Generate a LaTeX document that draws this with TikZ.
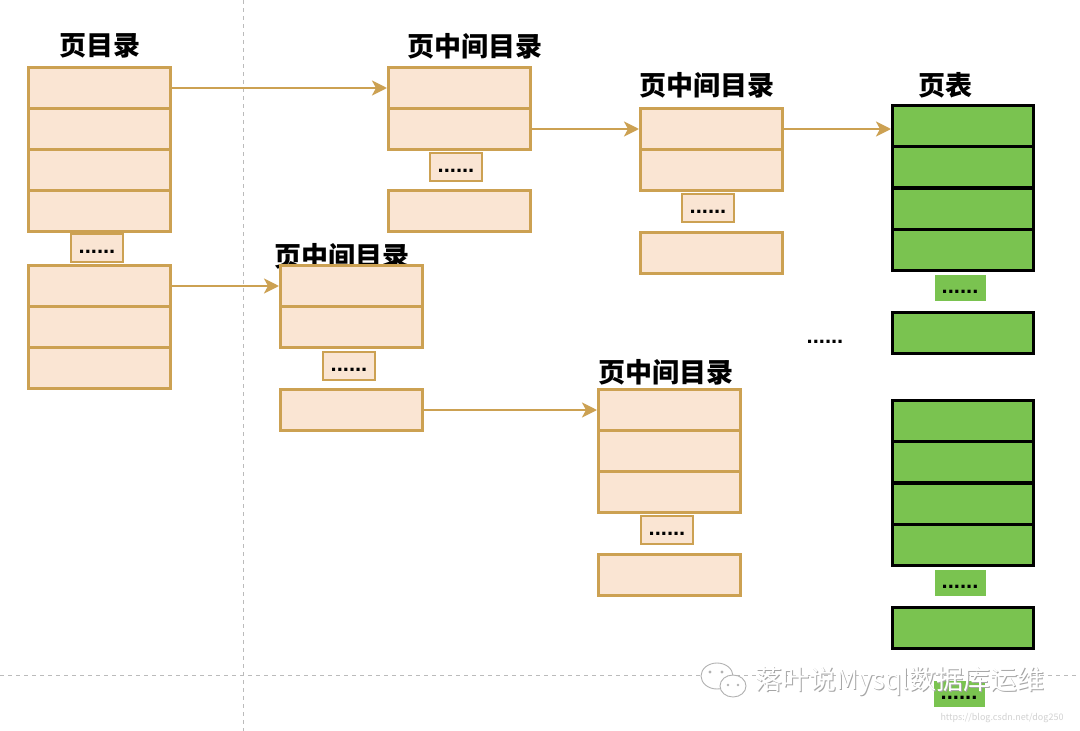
\documentclass[tikz,border=0pt]{standalone}
\usepackage{fontspec}
\setmainfont{Noto Sans CJK SC}
\newfontfamily\dotfont{Liberation Sans}
\usetikzlibrary{arrows.meta}
\definecolor{ostroke}{HTML}{CCA152}
\definecolor{ofill}{HTML}{FAE5D3}
\definecolor{gfill}{HTML}{7AC350}
\definecolor{dashc}{HTML}{BBBBBB}
\tikzset{
  orowbox/.style={draw=ostroke, fill=ofill, line width=3pt, minimum width=142pt, minimum height=41pt, anchor=north west, inner sep=0pt},
  growbox/.style={draw=black, fill=gfill, line width=3pt, minimum width=141pt, minimum height=41pt, anchor=north west, inner sep=0pt},
  dotsfont/.style={inner sep=0pt, text height=11pt, text depth=0pt, font=\dotfont\bfseries\fontsize{22}{22}\selectfont},
  odotsbox/.style={dotsfont, draw=ostroke, fill=ofill, line width=1.5pt, minimum width=52pt, minimum height=28pt},
  gdotsbox/.style={dotsfont, fill=gfill, minimum width=51pt, minimum height=26pt},
  ttlbox/.style={font=\fontsize{27}{27}\selectfont\bfseries, inner sep=0pt},
  linkline/.style={draw=ostroke, line width=2.5pt, -{Stealth[length=15pt,width=15pt,inset=4pt]}},
  sepline/.style={draw=dashc, line width=1pt, dash pattern=on 4pt off 4pt},
}
\begin{document}
\begin{tikzpicture}[x=1pt,y=-1pt]
\useasboundingbox (0,0) rectangle (1080,731);
\fill[white] (0,0) rectangle (1080,731);
% separators
\coordinate (vt) at (243,0); \coordinate (vb) at (243,731);
\coordinate (hl) at (0,675); \coordinate (hr) at (1080,675);
\draw[sepline] (vt) -- (vb);
\draw[sepline] (hl) -- (hr);

% page directory
\node[ttlbox] (tpd) at (100,46) {页目录};
\node[orowbox] (pd1) at (27,66) {};
\node[orowbox] (pd2) at (27,107) {};
\node[orowbox] (pd3) at (27,148) {};
\node[orowbox] (pd4) at (27,189) {};
\node[odotsbox] (pdd) at (97,248) {......};
\node[orowbox] (pd5) at (27,264) {};
\node[orowbox] (pd6) at (27,305) {};
\node[orowbox] (pd7) at (27,346) {};

% middle directory A
\node[ttlbox] (tma) at (475,46) {页中间目录};
\node[orowbox] (ma1) at (387,66) {};
\node[orowbox] (ma2) at (387,107) {};
\node[odotsbox] (mad) at (456,167) {......};
\node[orowbox] (ma3) at (387,189) {};

% middle directory B
\node[ttlbox] (tmb) at (707,85) {页中间目录};
\node[orowbox] (mb1) at (639,107) {};
\node[orowbox] (mb2) at (639,148) {};
\node[odotsbox] (mbd) at (708,208) {......};
\node[orowbox] (mb3) at (639,231) {};

% middle directory C
\node[ttlbox] (tmc) at (342,256) {页中间目录};
\node[orowbox] (mc1) at (279,264) {};
\node[orowbox] (mc2) at (279,305) {};
\node[odotsbox] (mcd) at (349,366) {......};
\node[orowbox] (mc3) at (279,388) {};

% middle directory D
\node[ttlbox] (tmd) at (666,372) {页中间目录};
\node[orowbox] (md1) at (597,388) {};
\node[orowbox] (md2) at (597,429) {};
\node[orowbox] (md3) at (597,470) {};
\node[odotsbox] (mdd) at (667,530) {......};
\node[orowbox] (md4) at (597,553) {};

% page table 1
\node[ttlbox] (tpt) at (945,85) {页表};
\node[growbox] (pt1) at (891,104) {};
\node[growbox] (pt2) at (891,145) {};
\node[growbox] (pt3) at (891,187) {};
\node[growbox] (pt4) at (891,228) {};
\node[gdotsbox] (ptd) at (960,288) {......};
\node[growbox] (pt5) at (891,311) {};

% between tables
\node[dotsfont] (mid) at (825,338) {......};

% page table 2
\node[growbox] (pu1) at (891,399) {};
\node[growbox] (pu2) at (891,440) {};
\node[growbox] (pu3) at (891,482) {};
\node[growbox] (pu4) at (891,523) {};
\node[gdotsbox] (pud) at (960,583) {......};
\node[growbox] (pu5) at (891,606) {};
\node[gdotsbox] (pve) at (959,694) {......};

% links
\draw[linkline] (pd1.east) -- (ma1.west);
\draw[linkline] (pd5.east) -- (mc1.west);
\draw[linkline] (ma2.east) -- (mb1.west);
\draw[linkline] (mb1.east) -- (mb1.east -| pt1.west);
\draw[linkline] (mc3.east) -- (md1.west);

% watermark
\begin{scope}[draw=gray!60, fill=white, line width=0.9pt]
  \filldraw (717,676) ellipse (16pt and 13pt);
  \filldraw (733,686) ellipse (13pt and 11pt);
  \fill[gray!60] (710,672) circle (1.6pt) (722,672) circle (1.6pt) (728,685) circle (1.4pt) (738,685) circle (1.4pt);
\end{scope}
\node[font=\fontsize{27}{27}\selectfont, text=gray!70, inner sep=0pt] (wms) at (901,682) {落叶说Mysql数据库运维};
\node[font=\fontsize{27}{27}\selectfont, text=white, inner sep=0pt] (wm) at (900,681) {落叶说Mysql数据库运维};
\node[font=\fontsize{9}{9}\selectfont, text=gray!35, inner sep=0pt] (url) at (1002,718) {https://blog.csdn.net/dog250};
\end{tikzpicture}
\end{document}
